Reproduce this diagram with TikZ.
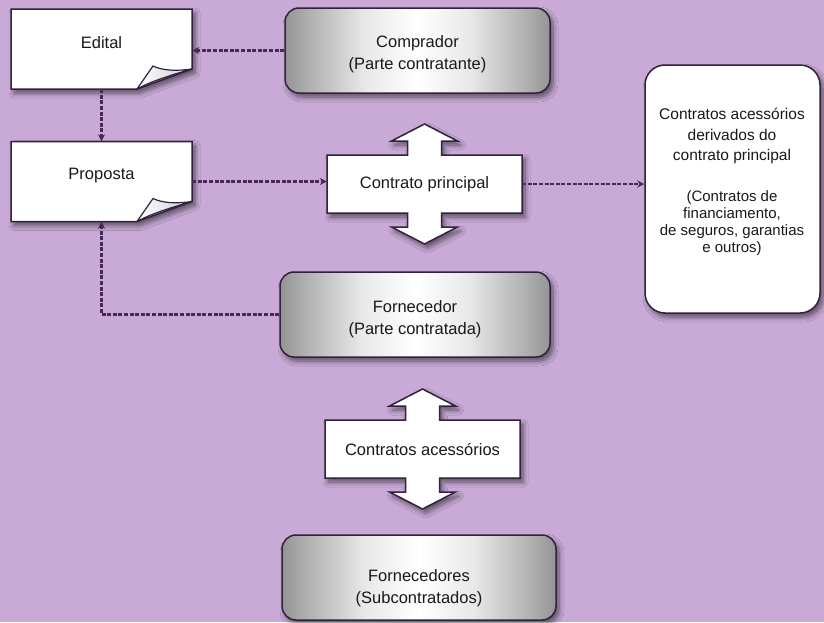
\documentclass[tikz,border=0pt]{standalone}
\usepackage{fontspec}
\setmainfont{Liberation Sans}
\usetikzlibrary{arrows.meta,calc,shadows,shadows.blur}
\definecolor{bg}{RGB}{201,170,215}
\definecolor{ink}{RGB}{50,34,62}
\definecolor{conncol}{RGB}{74,40,94}
\pgfdeclarehorizontalshading{boxshade}{100bp}{%
  color(0bp)=(white!58!black);
  color(25bp)=(white!58!black);
  color(30bp)=(white!70!black);
  color(40bp)=(white!91!black);
  color(50bp)=(white);
  color(60bp)=(white!91!black);
  color(70bp)=(white!70!black);
  color(75bp)=(white!58!black);
  color(100bp)=(white!58!black)}
\tikzset{
  txt/.style={font=\fontsize{16.5}{22}\selectfont, align=center, text=black!90},
  softshadow/.style={blur shadow={shadow xshift=3pt, shadow yshift=-4pt, shadow blur radius=5pt, shadow blur steps=8, shadow opacity=55}},
  graybox/.style={rounded corners=14pt, draw=ink, line width=1.5pt, shading=boxshade, minimum height=85pt, softshadow, txt},
  whitebox/.style={rounded corners=20pt, draw=ink, line width=1.5pt, fill=white, softshadow},
  pagestyle/.style={draw=ink, line width=1.5pt, fill=white, line join=miter, softshadow},
  flapstyle/.style={draw=ink, line width=1.2pt, left color=white, right color=gray!40},
  crossstyle/.style={draw=ink, line width=1.5pt, fill=white, line join=miter, softshadow},
  anchorbox/.style={inner sep=0pt, minimum width=181pt, minimum height=80pt},
  conn/.style={draw=conncol, line width=2.6pt, dash pattern=on 4pt off 1.6pt, -{Stealth[length=7pt,width=7pt]}}
}
\newcommand\docpage[1]{%
  \draw[pagestyle,shift={(#1)}] (-90.5,-40) -- (90.5,-40) -- (90.5,20) -- (35.5,40) -- (-90.5,40) -- cycle;
  \draw[flapstyle,shift={(#1)}] (35.5,40) -- (51.5,17) .. controls (62,22) and (76,22) .. (90.5,20) .. controls (70,26) and (50,32) .. (35.5,40);
}
\newcommand\crossarrow[1]{%
  \draw[crossstyle,shift={(#1)}] (-97.5,-29) -- (-17,-29) -- (-17,-43) -- (-33,-43) -- (0,-60) -- (33,-43) -- (17,-43) -- (17,-29) -- (97.5,-29) -- (97.5,29) -- (17,29) -- (17,43) -- (33,43) -- (0,60) -- (-33,43) -- (-17,43) -- (-17,29) -- (-97.5,29) -- cycle;
}
\begin{document}
\begin{tikzpicture}[x=1pt,y=-1pt]
\fill[bg] (0,0) rectangle (824,622);
\useasboundingbox (0,0) rectangle (824,622);

% documents
\coordinate (editalc) at (101.5,49);
\coordinate (propostac) at (101.5,181.5);
\docpage{editalc}
\docpage{propostac}
\node[anchorbox] (edital) at (editalc) {};
\node[anchorbox] (proposta) at (propostac) {};
\node[txt] (editallabel) at ($(editalc)+(0,-6)$) {Edital};
\node[txt] (propostalabel) at ($(propostac)+(0,-6)$) {Proposta};

% gray boxes
\node[graybox, minimum width=265pt, text height=41pt] (comprador) at (417.5,50.5) {Comprador\\(Parte contratante)};
\node[graybox, minimum width=270pt, text height=44pt] (fornecedor) at (415,314.5) {Fornecedor\\(Parte contratada)};
\node[graybox, minimum width=274pt, text height=55pt] (fornecedores) at (419,577.5) {Fornecedores\\(Subcontratados)};

% crosses
\coordinate (cpc) at (424.5,184);
\coordinate (cac) at (422.5,449);
\crossarrow{cpc}
\crossarrow{cac}
\node[txt, inner sep=0pt, minimum width=195pt, minimum height=58pt] (cp) at (cpc) {Contrato principal};
\node[txt, inner sep=0pt, minimum width=195pt, minimum height=58pt] (ca) at (cac) {Contratos acessórios};

% right box
\node[whitebox, minimum width=175pt, minimum height=248pt] (derivados) at (732.5,189) {};
\node[txt, font=\fontsize{15.5}{20.5}\selectfont] (derivadostitle) at (732,136) {Contratos acessórios\\derivados do\\contrato principal};
\node[txt, font=\fontsize{15}{17}\selectfont] (derivadosnote) at (732,223.5) {(Contratos de\\financiamento,\\de seguros, garantias\\e outros)};

% connectors
\draw[conn] (comprador.west) -- (comprador.west -| edital.east);
\draw[conn] (edital.south) -- (proposta.north);
\draw[conn] (proposta.east) -- (proposta.east -| cp.west);
\draw[conn] (cp.east) -- (cp.east -| derivados.west);
\draw[conn] (fornecedor.west) -| (proposta.south);
\end{tikzpicture}
\end{document}
